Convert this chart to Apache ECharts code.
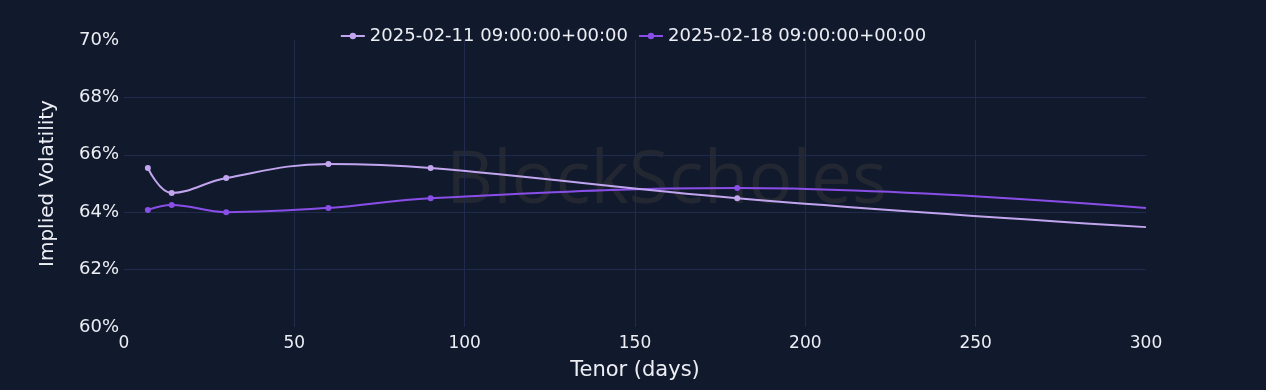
<!DOCTYPE html>
<html>
<head>
<meta charset="utf-8">
<script src="https://cdn.jsdelivr.net/npm/echarts@6/dist/echarts.min.js"></script>
<style>
html,body{margin:0;padding:0;background:#111a2c;}
#chart{width:1266px;height:390px;}
</style>
</head>
<body>
<div id="chart"></div>
<script>
const seriesNames = ['2025-02-11 09:00:00+00:00', '2025-02-18 09:00:00+00:00'];
const tenors = [7, 14, 30, 60, 90, 180, 300];
const iv0211 = [65.54, 64.67, 65.19, 65.68, 65.54, 64.49, 63.48];
const iv0218 = [64.08, 64.25, 64.00, 64.15, 64.49, 64.84, 64.15];
const markedPoints = [true, true, true, true, true, true, false];
const colors = ['#c2a5ef', '#8a4ee8'];

function build(vals) {
  return tenors.map((t, i) => markedPoints[i] ? [t, vals[i]] : { value: [t, vals[i]], symbol: 'none' });
}

const chart = echarts.init(document.getElementById('chart'));
const txt = '#eceef4';
const font = 'DejaVu Sans';
chart.setOption({
  backgroundColor: '#111a2c',
  textStyle: { fontFamily: font },
  graphic: [{
    type: 'text', left: 446, top: 146, silent: true, z: 0,
    style: { text: 'BlockScholes', font: '73px "Open Sans"', fill: 'rgba(120,105,80,0.17)' }
  }],
  legend: {
    top: 22, left: 'center', itemWidth: 24, itemHeight: 8, itemGap: 10,
    textStyle: { color: txt, fontSize: 18, fontFamily: font },
    data: seriesNames
  },
  grid: { left: 124, right: 120, top: 40, bottom: 63, containLabel: false },
  xAxis: {
    type: 'value', min: 0, max: 300, interval: 50,
    name: 'Tenor (days)', nameLocation: 'middle', nameGap: 33,
    nameTextStyle: { color: txt, fontSize: 21, fontFamily: font },
    axisLine: { show: false }, axisTick: { show: false },
    axisLabel: { color: txt, fontSize: 17, margin: 8, showMaxLabel: true, showMinLabel: true },
    splitLine: { show: true, lineStyle: { color: '#1f2a4c', width: 1 },
      showMinLine: false, showMaxLine: false }
  },
  yAxis: {
    type: 'value', min: 60, max: 70, interval: 2,
    name: 'Implied Volatility', nameLocation: 'middle', nameGap: 66, nameRotate: 90,
    nameTextStyle: { color: txt, fontSize: 20, fontFamily: font },
    axisLine: { show: false }, axisTick: { show: false },
    axisLabel: { color: txt, fontSize: 18, margin: 5, formatter: v => v + '%' },
    splitLine: { show: true, lineStyle: { color: '#1f2a4c', width: 1 },
      showMinLine: false, showMaxLine: false }
  },
  series: [
    { name: seriesNames[0], type: 'line', data: build(iv0211), smooth: 0.4,
      color: colors[0], symbol: 'circle', symbolSize: 6, showAllSymbol: true,
      lineStyle: { width: 2, color: colors[0] }, itemStyle: { color: colors[0] }, z: 3 },
    { name: seriesNames[1], type: 'line', data: build(iv0218), smooth: 0.4,
      color: colors[1], symbol: 'circle', symbolSize: 6, showAllSymbol: true,
      lineStyle: { width: 2, color: colors[1] }, itemStyle: { color: colors[1] }, z: 2 }
  ]
});
</script>
</body>
</html>
